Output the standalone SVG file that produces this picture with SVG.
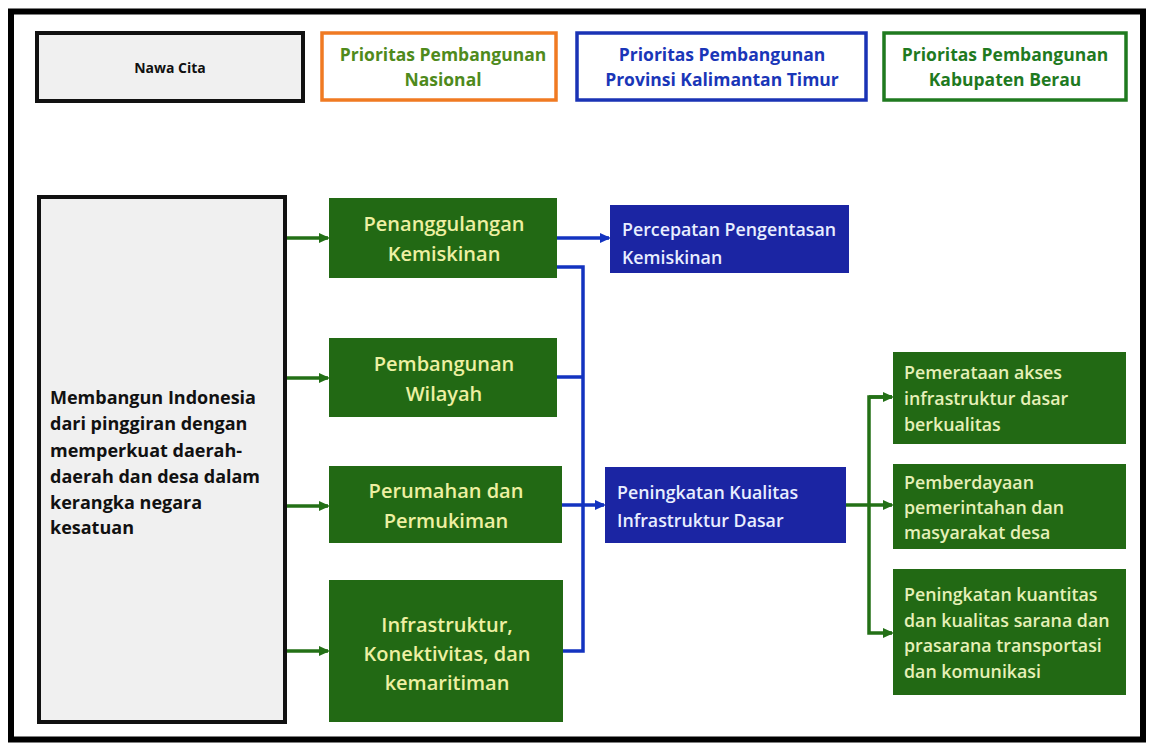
<svg xmlns="http://www.w3.org/2000/svg" width="1151" height="748" viewBox="0 0 1151 748">
  <style>
    text { font-family: "Open Sans", "Liberation Sans", sans-serif; }
    .frame { fill: #ffffff; stroke: #000000; stroke-width: 6; }
    .hbox { fill: #ffffff; stroke-width: 3.5; }
    .nawa { fill: #f0f0f0; stroke: #111111; stroke-width: 4; }
    .gnode { fill: #226914; }
    .bnode { fill: #1b25a3; }
    .htxt { font-size: 17.5px; font-weight: 700; text-anchor: middle; }
    .gtxt { font-size: 20px; font-weight: 600; fill: #eef0a2; text-anchor: middle; }
    .btxt { font-size: 17.8px; font-weight: 600; fill: #e8eeff; }
    .ktxt { font-size: 17.8px; font-weight: 600; fill: #e6f0b8; }
    .ltxt { font-size: 18px; font-weight: 700; fill: #111111; }
    .gline { fill: none; stroke: #237016; stroke-width: 3.5; }
    .bline { fill: none; stroke: #1333c0; stroke-width: 3.5; }
  </style>
  <defs>
    <marker id="ag" markerWidth="11" markerHeight="11" refX="9" refY="5.5" orient="auto" markerUnits="userSpaceOnUse" viewBox="0 0 11 11">
      <path d="M0,0.5 L11,5.5 L0,10.5 Z" fill="#237016"/>
    </marker>
    <marker id="ab" markerWidth="11" markerHeight="11" refX="9" refY="5.5" orient="auto" markerUnits="userSpaceOnUse" viewBox="0 0 11 11">
      <path d="M0,0.5 L11,5.5 L0,10.5 Z" fill="#1333c0"/>
    </marker>
  </defs>
  <rect x="0" y="0" width="1151" height="748" fill="#ffffff"/>
  <rect class="frame" x="11" y="11.5" width="1132" height="728"/>

  <g id="hdr-nawa">
    <rect class="nawa" x="37" y="33" width="266" height="68"/>
    <text x="170" y="73" style="font-size:14px;font-weight:700;fill:#111;text-anchor:middle">Nawa Cita</text>
  </g>
  <g id="hdr-nasional">
    <rect class="hbox" x="322" y="33" width="234" height="67" stroke="#f07a22"/>
    <text class="htxt" fill="#4f8a1c"><tspan x="443" y="61">Prioritas Pembangunan</tspan><tspan x="443" y="86">Nasional</tspan></text>
  </g>
  <g id="hdr-provinsi">
    <rect class="hbox" x="577" y="33" width="289" height="67" stroke="#1a33b5"/>
    <text class="htxt" fill="#1a36b8"><tspan x="722" y="61">Prioritas Pembangunan</tspan><tspan x="722" y="86">Provinsi Kalimantan Timur</tspan></text>
  </g>
  <g id="hdr-kabupaten">
    <rect class="hbox" x="884" y="33" width="242" height="67" stroke="#1f7a1f"/>
    <text class="htxt" fill="#1f7a1f"><tspan x="1005" y="61">Prioritas Pembangunan</tspan><tspan x="1005" y="86">Kabupaten Berau</tspan></text>
  </g>

  <g id="connectors">
    <path class="gline" d="M285,238 H328" marker-end="url(#ag)"/>
    <path class="gline" d="M285,378 H328" marker-end="url(#ag)"/>
    <path class="gline" d="M285,506 H328" marker-end="url(#ag)"/>
    <path class="gline" d="M285,651 H328" marker-end="url(#ag)"/>
    <path class="bline" d="M557,238 H609" marker-end="url(#ab)"/>
    <path class="bline" d="M557,267 H583 V651 H563"/>
    <path class="bline" d="M557,377 H583"/>
    <path class="bline" d="M562,505 H604" marker-end="url(#ab)"/>
    <path class="gline" d="M846,505 H892" marker-end="url(#ag)"/>
    <path class="gline" d="M892,397 H869 V633 H892" marker-end="url(#ag)"/>
    <path class="gline" d="M869,397 H892" marker-end="url(#ag)"/>
  </g>

  <g id="nawa-cita">
    <rect class="nawa" x="39" y="197" width="246" height="525"/>
    <text class="ltxt">
      <tspan x="50" y="404">Membangun Indonesia</tspan>
      <tspan x="50" y="430">dari pinggiran dengan</tspan>
      <tspan x="50" y="457">memperkuat daerah-</tspan>
      <tspan x="50" y="483">daerah dan desa dalam</tspan>
      <tspan x="50" y="509">kerangka negara</tspan>
      <tspan x="50" y="534">kesatuan</tspan>
    </text>
  </g>

  <g id="penanggulangan">
    <rect class="gnode" x="329" y="198" width="228" height="80"/>
    <text class="gtxt"><tspan x="444" y="231">Penanggulangan</tspan><tspan x="444" y="261">Kemiskinan</tspan></text>
  </g>
  <g id="pembangunan-wilayah">
    <rect class="gnode" x="329" y="338" width="228" height="79"/>
    <text class="gtxt"><tspan x="444" y="371">Pembangunan</tspan><tspan x="444" y="401">Wilayah</tspan></text>
  </g>
  <g id="perumahan">
    <rect class="gnode" x="329" y="466" width="233" height="77"/>
    <text class="gtxt"><tspan x="446" y="498">Perumahan dan</tspan><tspan x="446" y="528">Permukiman</tspan></text>
  </g>
  <g id="infrastruktur">
    <rect class="gnode" x="329" y="580" width="234" height="142"/>
    <text class="gtxt"><tspan x="447" y="632">Infrastruktur,</tspan><tspan x="447" y="661">Konektivitas, dan</tspan><tspan x="447" y="690">kemaritiman</tspan></text>
  </g>

  <g id="percepatan">
    <rect class="bnode" x="610" y="205" width="239" height="68"/>
    <text class="btxt"><tspan x="622" y="236">Percepatan Pengentasan</tspan><tspan x="622" y="264">Kemiskinan</tspan></text>
  </g>
  <g id="peningkatan-infra">
    <rect class="bnode" x="605" y="467" width="241" height="76"/>
    <text class="btxt"><tspan x="617" y="499">Peningkatan Kualitas</tspan><tspan x="617" y="527">Infrastruktur Dasar</tspan></text>
  </g>

  <g id="pemerataan">
    <rect class="gnode" x="893" y="352" width="233" height="92"/>
    <text class="ktxt"><tspan x="904" y="379">Pemerataan akses</tspan><tspan x="904" y="405">infrastruktur dasar</tspan><tspan x="904" y="431">berkualitas</tspan></text>
  </g>
  <g id="pemberdayaan">
    <rect class="gnode" x="893" y="464" width="233" height="85"/>
    <text class="ktxt"><tspan x="904" y="489">Pemberdayaan</tspan><tspan x="904" y="514">pemerintahan dan</tspan><tspan x="904" y="539">masyarakat desa</tspan></text>
  </g>
  <g id="peningkatan-transportasi">
    <rect class="gnode" x="893" y="569" width="233" height="126"/>
    <text class="ktxt"><tspan x="904" y="601">Peningkatan kuantitas</tspan><tspan x="904" y="627">dan kualitas sarana dan</tspan><tspan x="904" y="652">prasarana transportasi</tspan><tspan x="904" y="678">dan komunikasi</tspan></text>
  </g>
</svg>
